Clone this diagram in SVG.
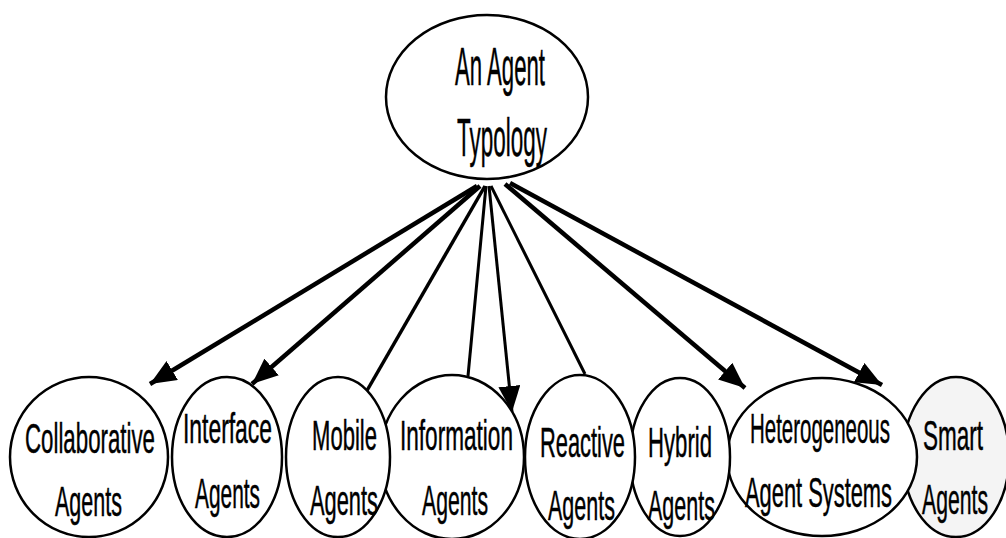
<svg xmlns="http://www.w3.org/2000/svg" width="1006" height="538" viewBox="0 0 1006 538">
<style>
.n{fill:#fff;stroke:#000;stroke-width:2.5}
.t{font-family:"Liberation Sans",Arial,sans-serif;fill:#000;stroke:#000;stroke-width:0.5}
.b{font-size:43px}
.h{font-size:54px}
.c{stroke:#000;fill:none}
</style>
<defs>
<marker id="ah" markerUnits="userSpaceOnUse" markerWidth="28" markerHeight="22" refX="26" refY="11" orient="auto">
<path d="M0,0 L26,11 L0,22 z" fill="#000"/>
</marker>
</defs>
<rect width="1006" height="538" fill="#fff"/>
<g id="connectors">
<line class="c" x1="477" y1="186" x2="150" y2="384" stroke-width="4.5" marker-end="url(#ah)"/>
<line class="c" x1="480" y1="186" x2="252" y2="384" stroke-width="4.5" marker-end="url(#ah)"/>
<line class="c" x1="485" y1="186" x2="350" y2="420" stroke-width="3.5" marker-end="url(#ah)"/>
<line class="c" x1="486" y1="186" x2="468" y2="376" stroke-width="3"/>
<line class="c" x1="489" y1="186" x2="512" y2="412" stroke-width="3" marker-end="url(#ah)"/>
<line class="c" x1="491" y1="186" x2="585" y2="374" stroke-width="3"/>
<line class="c" x1="505" y1="184" x2="745" y2="388" stroke-width="4.5" marker-end="url(#ah)"/>
<line class="c" x1="510" y1="183" x2="882" y2="385" stroke-width="4.5" marker-end="url(#ah)"/>
</g>
<g id="typology">
<ellipse class="n" cx="487" cy="97" rx="101" ry="82"/>
<text class="t h" x="455" y="85" textLength="90" lengthAdjust="spacingAndGlyphs">An Agent</text>
<text class="t h" x="457" y="156" textLength="90" lengthAdjust="spacingAndGlyphs">Typology</text>
</g>
<g id="smart">
<ellipse class="n" cx="956" cy="457" rx="53" ry="80" style="fill:#f4f4f4"/>
<text class="t b" x="923" y="450" textLength="60" lengthAdjust="spacingAndGlyphs">Smart</text>
<text class="t b" x="922" y="514" textLength="66" lengthAdjust="spacingAndGlyphs">Agents</text>
</g>
<g id="heterogeneous">
<ellipse class="n" cx="822" cy="457" rx="95" ry="79"/>
<text class="t b" x="750" y="443" textLength="140" lengthAdjust="spacingAndGlyphs">Heterogeneous</text>
<text class="t b" x="745" y="507" textLength="147" lengthAdjust="spacingAndGlyphs">Agent  Systems</text>
</g>
<g id="hybrid">
<ellipse class="n" cx="680" cy="457" rx="50" ry="79"/>
<text class="t b" x="648" y="457" textLength="64" lengthAdjust="spacingAndGlyphs">Hybrid</text>
<text class="t b" x="648" y="520" textLength="67" lengthAdjust="spacingAndGlyphs">Agents</text>
</g>
<g id="reactive">
<ellipse class="n" cx="580" cy="457" rx="55" ry="82"/>
<text class="t b" x="540" y="457" textLength="85" lengthAdjust="spacingAndGlyphs">Reactive</text>
<text class="t b" x="548" y="520" textLength="67" lengthAdjust="spacingAndGlyphs">Agents</text>
</g>
<g id="information">
<ellipse class="n" cx="452" cy="457" rx="72" ry="82"/>
<text class="t b" x="400" y="450" textLength="113" lengthAdjust="spacingAndGlyphs">Information</text>
<text class="t b" x="422" y="515" textLength="66" lengthAdjust="spacingAndGlyphs">Agents</text>
</g>
<g id="mobile">
<ellipse class="n" cx="338" cy="457" rx="52" ry="80"/>
<text class="t b" x="312" y="450" textLength="65" lengthAdjust="spacingAndGlyphs">Mobile</text>
<text class="t b" x="310" y="515" textLength="68" lengthAdjust="spacingAndGlyphs">Agents</text>
</g>
<g id="interface">
<ellipse class="n" cx="227" cy="457" rx="55" ry="80"/>
<text class="t b" x="183" y="443" textLength="89" lengthAdjust="spacingAndGlyphs">Interface</text>
<text class="t b" x="195" y="508" textLength="65" lengthAdjust="spacingAndGlyphs">Agents</text>
</g>
<g id="collaborative">
<ellipse class="n" cx="89" cy="457" rx="79" ry="80"/>
<text class="t b" x="25" y="453" textLength="130" lengthAdjust="spacingAndGlyphs">Collaborative</text>
<text class="t b" x="55" y="516" textLength="67" lengthAdjust="spacingAndGlyphs">Agents</text>
</g>
</svg>
